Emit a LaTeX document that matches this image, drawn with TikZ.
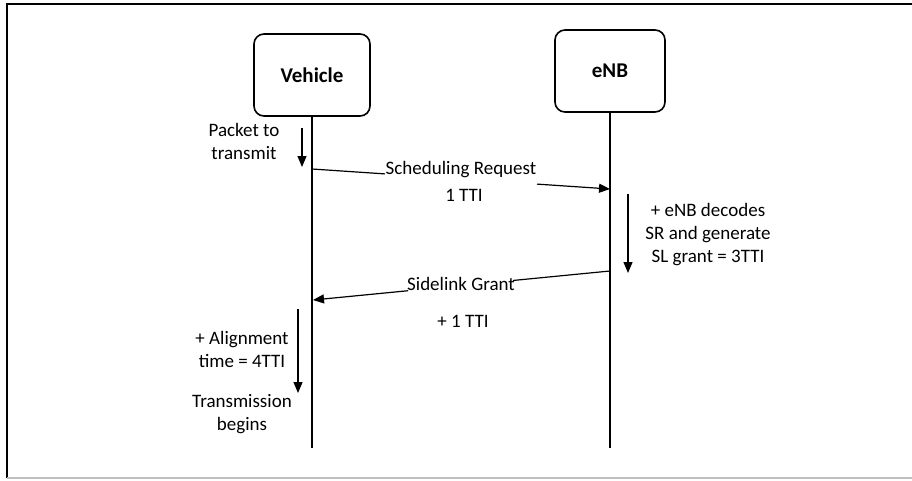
\documentclass[tikz,border=0pt]{standalone}
\usepackage{fontspec}
\setmainfont{Carlito}
\usetikzlibrary{arrows.meta,calc}
\begin{document}
\begin{tikzpicture}[x=1pt,y=-1pt,
  actor/.style={draw, line width=1.6pt, rounded corners=10pt, font=\fontsize{21}{25}\selectfont\bfseries},
  life/.style={line width=1.6pt},
  seg/.style={line width=1.2pt},
  msg/.style={line width=1.2pt, -{Triangle[length=11pt,width=9pt]}},
  note/.style={font=\fontsize{19}{23}\selectfont, align=center, inner sep=0pt}]
\useasboundingbox (0,0) rectangle (912,480);
\draw[line width=2pt] (912,4) -- (7,4) -- (7,478);
\draw[gray!50, line width=1.5pt] (7,478) -- (912,478);

\node[actor, minimum width=116pt, minimum height=82pt] (veh) at (312,75) {Vehicle};
\node[actor, minimum width=110pt, minimum height=82pt] (enb) at (610,71) {eNB};
\coordinate (vend) at (312,448);
\coordinate (eend) at (610,448);
\draw[life] (veh.south) -- (vend);
\draw[life] (enb.south) -- (eend);

% packet to transmit
\coordinate (pa1) at (302,128);
\coordinate (pa2) at (302,167);
\draw[msg] (pa1) -- (pa2);
\node[note] (pkt) at (244,141) {Packet to\\transmit};

% scheduling request
\coordinate (sr1) at (312,169);
\coordinate (sr2) at (610,189);
\draw[seg] (sr1) -- ($(sr1)!0.245!(sr2)$);
\draw[msg] ($(sr1)!0.755!(sr2)$) -- (sr2);
\node[note] (srl) at (461,170) {Scheduling Request};
\node[note] (tti1) at (464,195) {1 TTI};

% eNB decoding
\coordinate (de1) at (628,194);
\coordinate (de2) at (628,273);
\draw[msg] (de1) -- (de2);
\node[note] (dec) at (708,235) {+ eNB decodes\\SR and generate\\SL grant = 3TTI};

% sidelink grant
\coordinate (sg1) at (610,271);
\coordinate (sg2) at (313,300);
\draw[seg] (sg1) -- ($(sg1)!0.327!(sg2)$);
\draw[msg] ($(sg1)!0.68!(sg2)$) -- (sg2);
\node[note] (sgl) at (461,284) {Sidelink Grant};
\node[note] (tti2) at (463,321) {+ 1 TTI};

% alignment
\coordinate (al1) at (298,309);
\coordinate (al2) at (298,393);
\draw[msg] (al1) -- (al2);
\node[note] (aln) at (242,349) {+ Alignment\\time = 4TTI};
\node[note] (txb) at (242,414) {Transmission\\begins};
\end{tikzpicture}
\end{document}
